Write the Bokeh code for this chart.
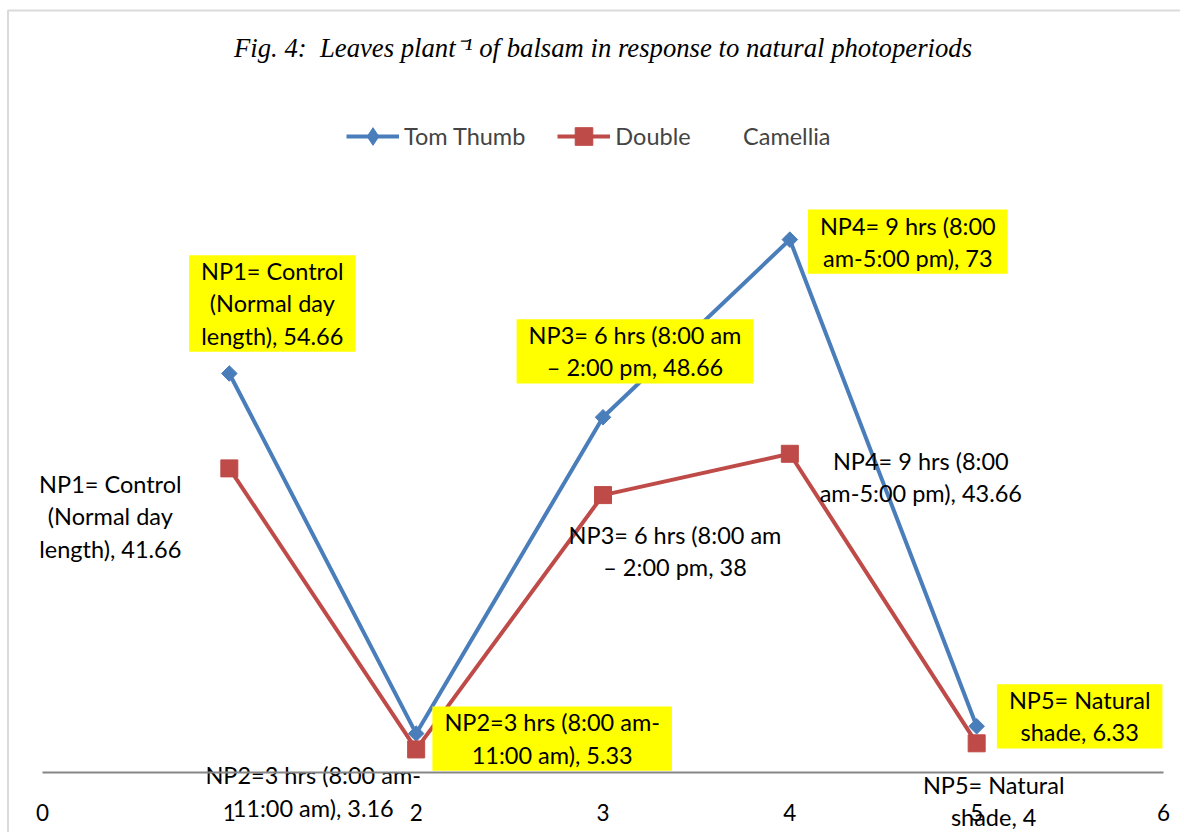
import math
from bokeh.plotting import figure
from bokeh.models import (ColumnDataSource, FixedTicker, Legend, LegendItem,
                          Label, BoxAnnotation, Range1d)
from bokeh.core.properties import value
from bokeh.embed import file_html
from bokeh.resources import INLINE

# ---------------- data ----------------
periods = [1, 2, 3, 4, 5]
tom_thumb = [54.66, 5.33, 48.66, 73, 6.33]
double = [41.66, 3.16, 38, 43.66, 4]
tom_labels = ["NP1= Control\n(Normal day\nlength), 54.66",
              "NP2=3 hrs (8:00 am-\n11:00 am), 5.33",
              "NP3= 6 hrs (8:00 am\n\u2013 2:00 pm, 48.66",
              "NP4= 9 hrs (8:00\nam-5:00 pm), 73",
              "NP5= Natural\nshade, 6.33"]
double_labels = ["NP1= Control\n(Normal day\nlength), 41.66",
                 "NP2=3 hrs (8:00 am-\n11:00 am), 3.16",
                 "NP3= 6 hrs (8:00 am\n\u2013 2:00 pm, 38",
                 "NP4= 9 hrs (8:00\nam-5:00 pm), 43.66",
                 "NP5= Natural\nshade, 4"]
x_ticks = [0, 1, 2, 3, 4, 5, 6]
series_names = ["Tom Thumb", "Double", "Camellia"]
title_text = "Fig. 4:\u00a0 Leaves plant\u207b\u00b9 of balsam in response to natural photoperiods"

# ---------------- label placement (screen px offsets, down positive) ----------------
tom_dx = [43, 136, 32, 118, 103]
tom_dy = [-70, 5, -66, 2, -10]
dbl_dx = [-119, -103, 72, 131, 17]
dbl_dy = [48, 42, 56, 23, 58]

BLUE = "#4A7EBB"
RED = "#BE4B48"
FONT = "Lato"
LBL_SIZE = "23.5px"

W, H = 1180, 832
X0_PX, X6_PX, Y0_PX, PX_PER_UNIT_Y = 42, 1163, 772, 7.3
px_x = (X6_PX - X0_PX) / 6.0

p = figure(width=W, height=H,
           x_range=Range1d(-X0_PX / px_x, 6 + (W - X6_PX) / px_x),
           y_range=Range1d(-(H - Y0_PX) / PX_PER_UNIT_Y, Y0_PX / PX_PER_UNIT_Y),
           min_border=0, toolbar_location=None, output_backend="svg")
p.outline_line_color = None
p.grid.visible = False
p.yaxis.visible = False

xa = p.xaxis[0]
xa.fixed_location = 0
xa.bounds = (0, 6)
xa.ticker = FixedTicker(ticks=x_ticks)
xa.axis_line_color = "#868686"
xa.axis_line_width = 2
xa.major_tick_line_color = None
xa.minor_tick_line_color = None
xa.major_label_text_font = FONT
xa.major_label_text_font_size = "22.5px"
xa.major_label_text_color = "black"
xa.major_label_standoff = 25

# border of the chart area (left and top edges)
border = BoxAnnotation(left=(7.5 - X0_PX) / px_x, right=10,
                       top=(Y0_PX - 10) / PX_PER_UNIT_Y, bottom=-30,
                       fill_alpha=0, line_color="#868686", line_width=2)
p.add_layout(border)

tom_line = p.line(periods, tom_thumb, line_color=BLUE, line_width=4)
tom_pts = p.scatter(periods, tom_thumb, marker="square", angle=math.pi / 4, size=11,
                    fill_color=BLUE, line_color=BLUE)
tom_leg = p.scatter(periods, tom_thumb, marker="diamond", size=17,
                    fill_color=BLUE, line_color=BLUE, visible=False)
dbl_line = p.line(periods, double, line_color=RED, line_width=4)
dbl_pts = p.scatter(periods, double, marker="square", size=17,
                    fill_color=RED, line_color=RED)
cam_line = p.line(x=[], y=[], line_alpha=0)

tom_src = ColumnDataSource(dict(x=periods, y=tom_thumb, text=tom_labels, dx=tom_dx, dy=tom_dy))
p.text(x="x", y="y", text="text", x_offset="dx", y_offset="dy", source=tom_src,
       text_align="center", text_baseline="middle", text_font=value(FONT),
       text_font_size=LBL_SIZE, text_line_height=1.15, text_color="black",
       background_fill_color="#FFFF00",
       padding=dict(left=12, right=12, top=2, bottom=2))

dbl_src = ColumnDataSource(dict(x=periods, y=double, text=double_labels, dx=dbl_dx, dy=dbl_dy))
p.text(x="x", y="y", text="text", x_offset="dx", y_offset="dy", source=dbl_src,
       text_align="center", text_baseline="middle", text_font=value(FONT),
       text_font_size=LBL_SIZE, text_line_height=1.15, text_color="black")

p.add_layout(Label(x=3, y=(Y0_PX - 47) / PX_PER_UNIT_Y, text=title_text,
                   text_align="center", text_baseline="middle",
                   text_font="Liberation Serif", text_font_style="italic",
                   text_font_size="26.7px", text_color="black"))

LEG_GH = 44
leg_y = H - (136 + LEG_GH // 2)
leg1 = Legend(items=[LegendItem(label=series_names[0], renderers=[tom_line, tom_leg]),
                     LegendItem(label=series_names[1], renderers=[dbl_line, dbl_pts])],
              orientation="horizontal", location=(346, leg_y), glyph_width=53, glyph_height=LEG_GH,
              label_standoff=5, spacing=32, padding=0, margin=0, border_line_color=None,
              background_fill_alpha=0, label_text_font=FONT, label_text_font_size=LBL_SIZE)
leg2 = Legend(items=[LegendItem(label=series_names[2], renderers=[cam_line])],
              orientation="horizontal", location=(743, leg_y), glyph_width=0, glyph_height=LEG_GH,
              label_standoff=0, padding=0, margin=0, border_line_color=None,
              background_fill_alpha=0, label_text_font=FONT, label_text_font_size=LBL_SIZE)
p.add_layout(leg1)
p.add_layout(leg2)

open("out.html", "w").write(file_html(p, INLINE))
